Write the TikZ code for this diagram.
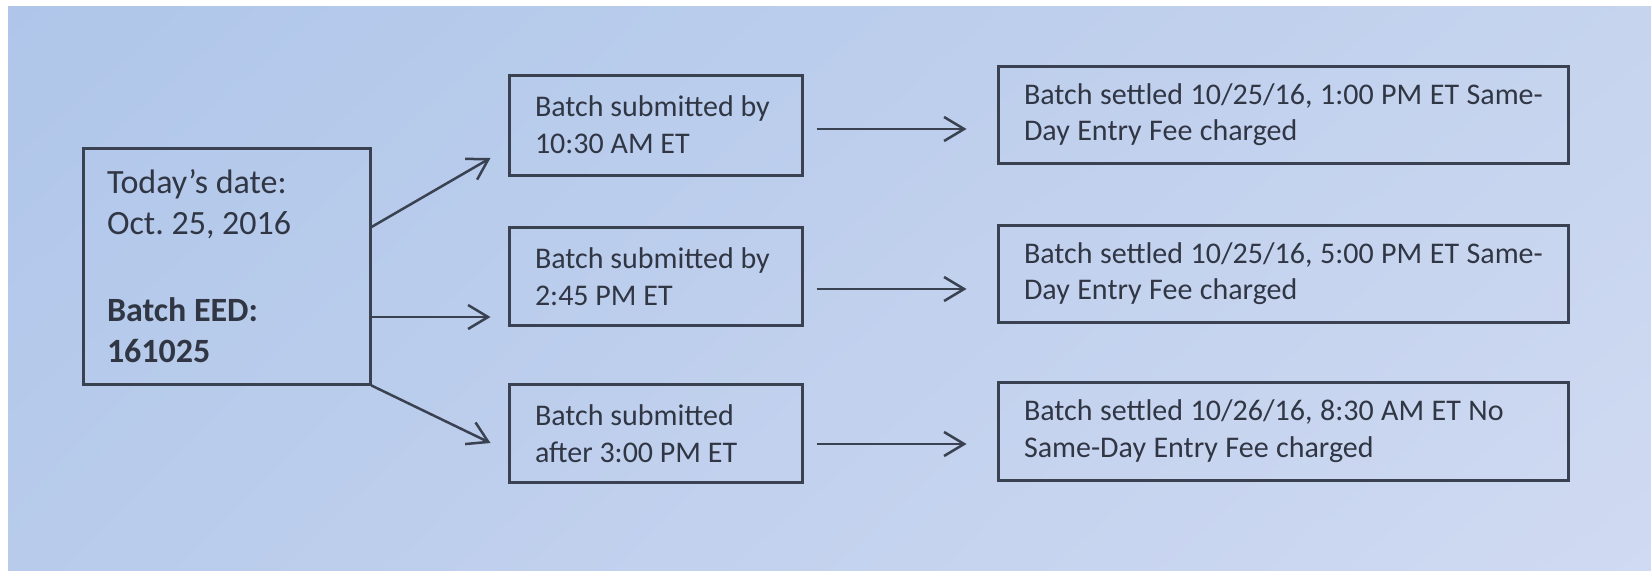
\documentclass[tikz,border=0pt]{standalone}
\usepackage{fontspec}
\setmainfont{Carlito}
\usetikzlibrary{arrows.meta,calc,shadings}
\definecolor{boxc}{RGB}{58,66,82}
\definecolor{txtc}{RGB}{48,54,68}
\definecolor{bgUL}{RGB}{175,198,234}
\definecolor{bgUR}{RGB}{198,212,238}
\definecolor{bgLL}{RGB}{184,203,235}
\definecolor{bgLR}{RGB}{208,218,242}
\frenchspacing
\newcommand\mytightspace{\spaceskip=7.5pt\relax}
\begin{document}
\begin{tikzpicture}[x=1pt,y=-1pt,
  box/.style={draw=boxc,line width=3pt,rectangle,align=flush left,text=txtc,inner ysep=0pt},
  leftbox/.style={box,inner xsep=24pt,text width=239pt,minimum width=287pt,minimum height=236pt,font=\fontsize{34}{41}\selectfont},
  midbox/.style={box,inner xsep=26pt,text width=241pt,minimum width=293pt,minimum height=98pt,font=\fontsize{30}{36.6}\selectfont},
  rightbox/.style={box,inner xsep=26pt,text width=518pt,minimum width=570pt,minimum height=97pt,font=\fontsize{30}{36.6}\selectfont,execute at begin node=\mytightspace},
  arr/.style={draw=boxc,line width=2.5pt,-{Straight Barb[length=20pt,width=24pt]}}]
\useasboundingbox (0,0) rectangle (1651,570);
\fill[white] (0,0) rectangle (1651,570);
\shade[upper left=bgUL,upper right=bgUR,lower left=bgLL,lower right=bgLR] (8,6) rectangle (1651,570);

\node[leftbox] (L) at (226.5,266) {Today’s date:\\Oct. 25, 2016\\[46pt]\textbf{Batch EED:}\\\textbf{161025}};

\node[midbox,minimum height=100pt] (M1) at (655.5,125) {\mbox{Batch submitted by}\\10:30 AM ET};
\node[midbox] (M2) at (655.5,276.5) {\mbox{Batch submitted by}\\2:45 PM ET};
\node[midbox] (M3) at (655.5,433.5) {Batch submitted\\after 3:00 PM ET};

\node[rightbox] (R1) at (1283,114.5) {\mbox{Batch settled 10/25/16, 1:00 PM ET Same-}\\Day Entry Fee charged};
\node[rightbox] (R2) at (1283,273.5) {\mbox{Batch settled 10/25/16, 5:00 PM ET Same-}\\Day Entry Fee charged};
\node[rightbox,minimum height=98pt] (R3) at (1283,431) {\mbox{Batch settled 10/26/16, 8:30 AM ET No}\\Same-Day Entry Fee charged};

\draw[arr] ($(L.east)+(0,-39)$) -- ($(M1.west)+(-17,33)$);
\draw[arr] ($(L.east)+(0,51)$) -- ($(M2.west)+(-17,40.5)$);
\draw[arr] (L.south east) -- ($(M3.west)+(-17,9.5)$);

\draw[arr] ($(M1.east)+(13,4)$) -- ($(M1.east -| R1.west)+(-30,4)$);
\draw[arr] ($(M2.east)+(13,12.5)$) -- ($(M2.east -| R2.west)+(-30,12.5)$);
\draw[arr] ($(M3.east)+(13,10.5)$) -- ($(M3.east -| R3.west)+(-30,10.5)$);
\end{tikzpicture}
\end{document}
